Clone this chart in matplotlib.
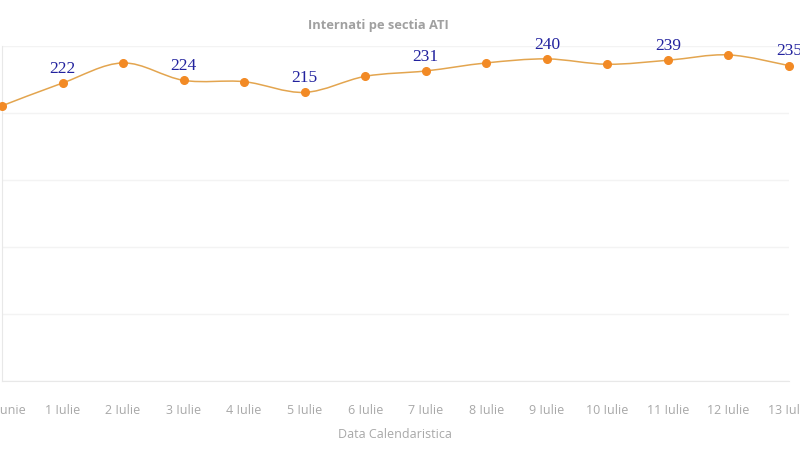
import numpy as np
from matplotlib import pyplot as plt
from matplotlib.path import Path
from matplotlib.patches import PathPatch

DAYS = ["30 Iunie", "1 Iulie", "2 Iulie", "3 Iulie", "4 Iulie", "5 Iulie", "6 Iulie",
        "7 Iulie", "8 Iulie", "9 Iulie", "10 Iulie", "11 Iulie", "12 Iulie", "13 Iulie"]
PATIENTS = [205, 222, 237, 224, 223, 215, 227, 231, 237, 240, 236, 239, 243, 235]
LABELLED = [1, 3, 5, 7, 9, 11, 13]


def smooth_path(xs, ys):
    # catmull-rom style bezier through the points, like a plotly spline
    pts = np.column_stack([xs, ys]).astype(float)
    verts = [pts[0]]
    codes = [Path.MOVETO]
    n = len(pts)
    for i in range(n - 1):
        p0 = pts[max(i - 1, 0)]
        p1 = pts[i]
        p2 = pts[i + 1]
        p3 = pts[min(i + 2, n - 1)]
        c1 = p1 + (p2 - p0) / 6.0
        c2 = p2 - (p3 - p1) / 6.0
        verts += [c1, c2, p2]
        codes += [Path.CURVE4] * 3
    return Path(verts, codes)


def main():
    fig = plt.figure(figsize=(8, 4.5), dpi=100)
    ax = fig.add_axes([2 / 800, 69.5 / 450, 787 / 800, 335 / 450])

    x = np.arange(len(DAYS))
    ax.add_patch(PathPatch(smooth_path(x, PATIENTS), facecolor="none",
                           edgecolor="#e3a54f", lw=1.1, zorder=2))
    ax.plot(x, PATIENTS, "o", color="#f28a25", ms=5.5, zorder=3, clip_on=False)

    for i in LABELLED:
        ax.annotate(str(PATIENTS[i]), (x[i], PATIENTS[i]), xytext=(0, 4.5),
                    textcoords="offset points", ha="center", va="bottom",
                    color="#22229e", fontsize=12.5, family="Liberation Serif")

    ax.set_xlim(0, 13)
    ax.set_ylim(0, 250)
    ax.set_yticks([0, 50, 100, 150, 200, 250])
    ax.set_yticklabels([])
    ax.tick_params(axis="y", length=0)
    ax.grid(axis="y", color="#f3f3f3", lw=1)
    ax.set_axisbelow(True)

    ax.set_xticks(x)
    ax.set_xticklabels(DAYS, color="#a8a8a8", fontsize=9, family="Open Sans")
    ax.tick_params(axis="x", length=0, pad=17)

    for side in ("top", "right"):
        ax.spines[side].set_visible(False)
    ax.spines["left"].set_color("#e8e8e8")
    ax.spines["bottom"].set_color("#e8e8e8")

    fig.text(395 / 800, 1 - 434 / 450, "Data Calendaristica", ha="center", va="center",
             color="#a8a8a8", fontsize=9, family="Open Sans")
    fig.text(378 / 800, 1 - 26 / 450, "Internati pe sectia ATI", ha="center", va="center",
             color="#a0a0a0", fontsize=9.3, fontweight="bold", family="Open Sans")

    fig.savefig("out.png", dpi=100)


if __name__ == '__main__':
    main()
